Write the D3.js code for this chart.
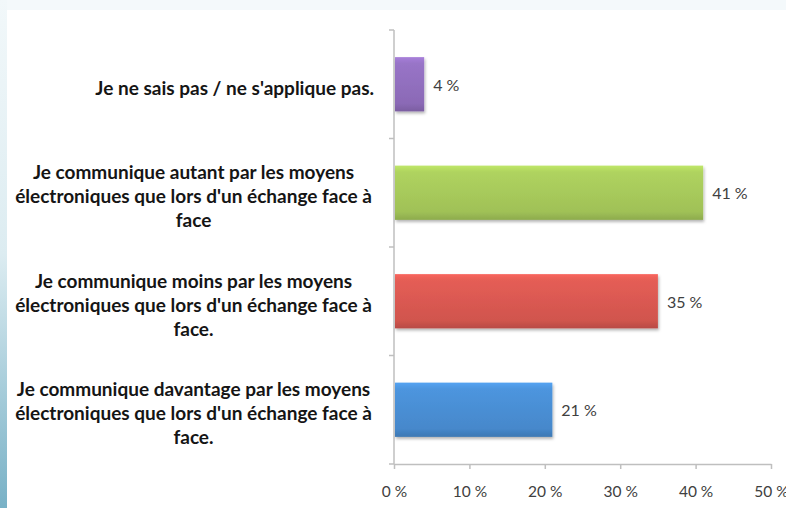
<!DOCTYPE html>
<html><head><meta charset="utf-8">
<script src="https://cdn.jsdelivr.net/npm/d3@7"></script>
<style>
html,body{margin:0;padding:0;background:#fff;}
svg{display:block;}
</style></head>
<body>
<svg id="chart" width="786" height="508"></svg>
<script>
const categories = [
  "Je ne sais pas / ne s'applique pas.",
  "Je communique autant par les moyens|électroniques que lors d'un échange face à|face",
  "Je communique moins par les moyens|électroniques que lors d'un échange face à|face.",
  "Je communique davantage par les moyens|électroniques que lors d'un échange face à|face."
];
const values = [4, 41, 35, 21];
const barColors = ["#9370c0", "#a9cc5c", "#dc5a52", "#4a90d6"];
const tickValues = [0, 10, 20, 30, 40, 50];
const tickLabels = ["0 %", "10 %", "20 %", "30 %", "40 %", "50 %"];

const svg = d3.select("#chart");
const W = 786, H = 508;
const defs = svg.append("defs");
const FONT = "Lato, 'Open Sans', sans-serif";

// slide background
const lg = defs.append("linearGradient").attr("id","leftStrip").attr("x1",0).attr("y1",0).attr("x2",0).attr("y2",1);
lg.append("stop").attr("offset","0").attr("stop-color","#f2f8fa");
lg.append("stop").attr("offset","0.5").attr("stop-color","#dcecf1");
lg.append("stop").attr("offset","1").attr("stop-color","#78b1c6");
svg.append("rect").attr("width",W).attr("height",H).attr("fill","#f4f9fb");
svg.append("rect").attr("x",0).attr("y",0).attr("width",7).attr("height",H).attr("fill","url(#leftStrip)");
svg.append("rect").attr("x",7).attr("y",10).attr("width",W-7).attr("height",H-10).attr("fill","#ffffff");

const plotTop = 30, plotBottom = 464;
const x = d3.scaleLinear().domain([0, 50]).range([394, 771]);
const y = d3.scaleBand().domain(d3.range(categories.length)).range([plotTop, plotBottom]).paddingInner(0.5).paddingOuter(0.25);

// gradients per bar
barColors.forEach((c, i) => {
  const g = defs.append("linearGradient").attr("id","bg"+i).attr("x1",0).attr("y1",0).attr("x2",0).attr("y2",1);
  const col = d3.color(c);
  g.append("stop").attr("offset","0").attr("stop-color", col.brighter(0.35));
  g.append("stop").attr("offset","0.12").attr("stop-color", col.brighter(0.1));
  g.append("stop").attr("offset","0.85").attr("stop-color", col.darker(0.15));
  g.append("stop").attr("offset","1").attr("stop-color", col.darker(0.5));
});
const sh = defs.append("filter").attr("id","shadow").attr("x","-5%").attr("y","-10%").attr("width","115%").attr("height","140%");
sh.append("feDropShadow").attr("dx",1).attr("dy",2).attr("stdDeviation",1.5).attr("flood-color","#000").attr("flood-opacity",0.3);

// axes
const gx = svg.append("g").attr("transform", `translate(0,${plotBottom})`)
  .call(d3.axisBottom(x).tickValues(tickValues).tickFormat((d,i)=>tickLabels[i]).tickSizeInner(5).tickSizeOuter(0));
gx.select(".domain").attr("stroke","#bfbfbf").attr("stroke-width",1.5);
gx.selectAll(".tick line").attr("stroke","#bfbfbf").attr("stroke-width",1.5);
gx.selectAll(".tick text").attr("fill","#404040").attr("font-family",FONT).attr("font-size",15.5)
  .attr("y",28).attr("dy","0.35em");

// vertical axis line and category ticks
const bandEdges = d3.range(categories.length + 1).map(i => plotTop + i * (plotBottom - plotTop) / categories.length);
svg.append("line").attr("x1",x(0)).attr("x2",x(0)).attr("y1",plotTop).attr("y2",plotBottom).attr("stroke","#bfbfbf").attr("stroke-width",1.5);
svg.selectAll(".ytick").data(bandEdges).join("line")
  .attr("x1",x(0)-5).attr("x2",x(0)).attr("y1",d=>d).attr("y2",d=>d).attr("stroke","#bfbfbf").attr("stroke-width",1.5);

// bars
svg.selectAll(".bar").data(values).join("rect")
  .attr("x", x(0)+1).attr("y",(d,i)=>y(i))
  .attr("width", d => x(d)-x(0)-1).attr("height", y.bandwidth())
  .attr("fill",(d,i)=>"url(#bg"+i+")")
  .attr("filter","url(#shadow)");

// value labels
svg.selectAll(".val").data(values).join("text")
  .attr("x", d => x(d) + 9).attr("y",(d,i)=>y(i)+y.bandwidth()/2 + 1)
  .attr("dy","0.35em").attr("fill","#404040")
  .attr("font-family",FONT).attr("font-size",16)
  .text(d => d + " %");

// category labels
const labelCx = 193.5;
const catSize = 19;
categories.forEach((c, i) => {
  const lines = c.split("|");
  const cy = y(i) + y.bandwidth()/2 + 4;
  const lh = 24;
  const t = svg.append("text").attr("text-anchor", lines.length > 1 ? "middle" : "end")
    .attr("font-family",FONT).attr("font-weight","bold").attr("font-size",catSize).attr("fill","#151515");
  lines.forEach((l, j) => {
    t.append("tspan").attr("x", lines.length > 1 ? labelCx : 374)
      .attr("y", cy + (j - (lines.length-1)/2) * lh).attr("dy","0.35em").text(l);
  });
});
</script>
</body></html>
